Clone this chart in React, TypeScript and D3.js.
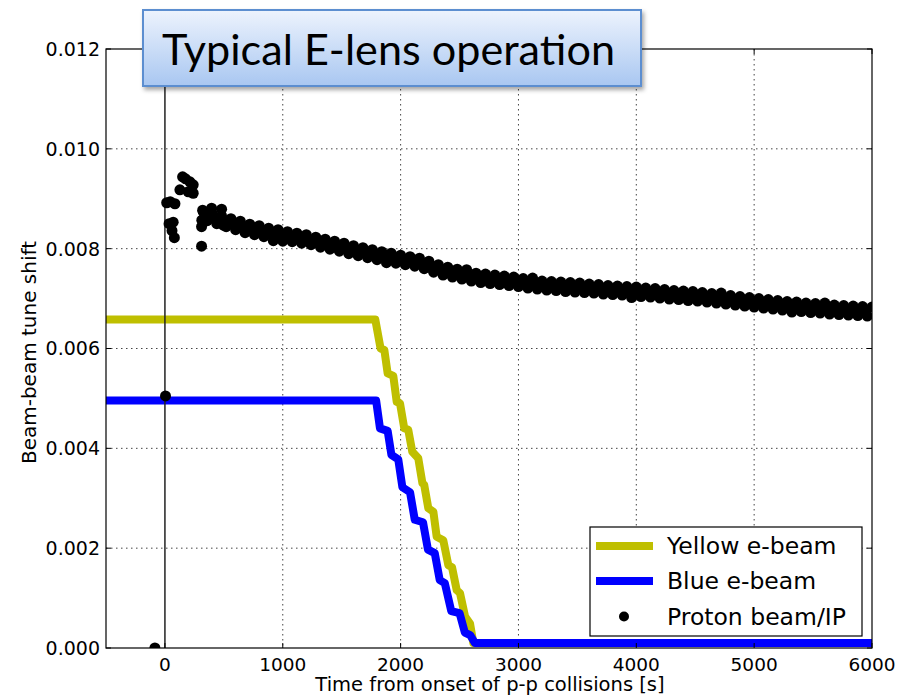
import React from "react";
import * as d3 from "d3";

// ---------- data ----------
const xTicks = [0, 1000, 2000, 3000, 4000, 5000, 6000];
const yTicks = [0, 0.002, 0.004, 0.006, 0.008, 0.01, 0.012];
const xDomain: [number, number] = [-500, 6000];
const yDomain: [number, number] = [0, 0.012];

const titleText = "Typical E-lens operation";
const xLabel = "Time from onset of p-p collisions [s]";
const yLabel = "Beam-beam tune shift";
const legendLabels = ["Yellow e-beam", "Blue e-beam", "Proton beam/IP"];

const yellowBeam: [number, number][] = [
  [-500, 0.00658], [1785, 0.00658], [1830, 0.006], [1862, 0.00597], [1890, 0.0055],
  [1938, 0.00545], [1967, 0.00493], [1995, 0.0049], [2031, 0.0044], [2065, 0.00437],
  [2099, 0.00393], [2150, 0.0038], [2185, 0.0033], [2200, 0.00327], [2235, 0.0028],
  [2278, 0.00273], [2306, 0.00223], [2362, 0.00216], [2405, 0.00166], [2436, 0.00162],
  [2476, 0.00116], [2504, 0.0011], [2547, 0.00063], [2589, 0.00049], [2617, 0.0001],
  [6000, 0.0001],
];

const blueBeam: [number, number][] = [
  [-500, 0.00496], [1792, 0.00496], [1825, 0.0044], [1890, 0.00435], [1922, 0.00387],
  [1980, 0.00378], [2015, 0.00322], [2080, 0.00312], [2120, 0.00257], [2190, 0.00252],
  [2232, 0.00197], [2290, 0.0019], [2332, 0.00136], [2375, 0.0013], [2430, 0.00074],
  [2500, 0.0007], [2545, 0.00031], [2590, 0.00026], [2630, 0.0001], [6000, 0.0001],
];

const protonEarly: [number, number][] = [
  [-85, 0.0], [5, 0.00505],
  [15, 0.00892], [45, 0.00894], [85, 0.0089],
  [35, 0.0085], [70, 0.00853], [60, 0.00836], [80, 0.00822],
  [127, 0.00918], [150, 0.00944], [175, 0.0094], [212, 0.00934], [240, 0.00928],
  [240, 0.00911], [198, 0.00914],
  [311, 0.00805], [311, 0.00844], [313, 0.00857], [325, 0.00874], [396, 0.00881],
  [481, 0.00879], [495, 0.00847],
];

const protonBand: [number, number][] = [
  [320, 0.00877], [360, 0.00856], [400, 0.00871], [440, 0.0085], [480, 0.00866], [520, 0.00844],
  [560, 0.0086], [600, 0.00838], [640, 0.00855], [680, 0.00832], [720, 0.00849], [760, 0.00828],
  [800, 0.00846], [840, 0.00824], [880, 0.00841], [920, 0.00816], [960, 0.00838], [1000, 0.00815],
  [1040, 0.00834], [1080, 0.00814], [1120, 0.00831], [1160, 0.00811], [1200, 0.00828], [1240, 0.00808],
  [1280, 0.00823], [1320, 0.00803], [1360, 0.00819], [1400, 0.00799], [1440, 0.00815], [1480, 0.00795],
  [1520, 0.00811], [1560, 0.0079], [1600, 0.00806], [1640, 0.00786], [1680, 0.00802], [1720, 0.00782],
  [1760, 0.00798], [1800, 0.00778], [1840, 0.00794], [1880, 0.00772], [1920, 0.00791], [1960, 0.00771],
  [2000, 0.00787], [2040, 0.00768], [2080, 0.00784], [2120, 0.00765], [2160, 0.00781], [2200, 0.0076],
  [2240, 0.00775], [2280, 0.00753], [2320, 0.00768], [2360, 0.00747], [2400, 0.00763], [2440, 0.00743],
  [2480, 0.00759], [2520, 0.00739], [2560, 0.00758], [2600, 0.00735], [2640, 0.00751], [2680, 0.00732],
  [2720, 0.00749], [2760, 0.0073], [2800, 0.00747], [2840, 0.00728], [2880, 0.00745], [2920, 0.00726],
  [2960, 0.00743], [3000, 0.00724], [3040, 0.0074], [3080, 0.00721], [3120, 0.00741], [3160, 0.00719],
  [3200, 0.00735], [3240, 0.00717], [3280, 0.00734], [3320, 0.00716], [3360, 0.00733], [3400, 0.00714],
  [3440, 0.00732], [3480, 0.00713], [3520, 0.00731], [3560, 0.00712], [3600, 0.00729], [3640, 0.00711],
  [3680, 0.00728], [3720, 0.00709], [3760, 0.00726], [3800, 0.00708], [3840, 0.00725], [3880, 0.00707],
  [3920, 0.00724], [3960, 0.00702], [4000, 0.00723], [4040, 0.00704], [4080, 0.00721], [4120, 0.00703],
  [4160, 0.0072], [4200, 0.00701], [4240, 0.00718], [4280, 0.00699], [4320, 0.00716], [4360, 0.00698],
  [4400, 0.00715], [4440, 0.00696], [4480, 0.00714], [4520, 0.00695], [4560, 0.00712], [4600, 0.00693],
  [4640, 0.0071], [4680, 0.00691], [4720, 0.00711], [4760, 0.00689], [4800, 0.00706], [4840, 0.00687],
  [4880, 0.00704], [4920, 0.00685], [4960, 0.00702], [5000, 0.00683], [5040, 0.007], [5080, 0.00681],
  [5120, 0.00698], [5160, 0.00679], [5200, 0.00696], [5240, 0.00677], [5280, 0.00694], [5320, 0.00673],
  [5360, 0.00693], [5400, 0.00674], [5440, 0.00691], [5480, 0.00672], [5520, 0.0069], [5560, 0.00671],
  [5600, 0.00691], [5640, 0.00669], [5680, 0.00687], [5720, 0.00668], [5760, 0.00686], [5800, 0.00667],
  [5840, 0.00685], [5880, 0.00666], [5920, 0.00684], [5960, 0.00665], [6000, 0.00683],
];

// a middle row of the band, between the upper and lower rows above
const protonMid: [number, number][] = [
  [340, 0.00866], [420, 0.00861], [500, 0.00855], [580, 0.0085], [660, 0.00843], [740, 0.00839],
  [820, 0.00835], [900, 0.00828], [980, 0.00828], [1060, 0.00824], [1140, 0.00821], [1220, 0.00817],
  [1300, 0.00813], [1380, 0.00809], [1460, 0.00805], [1540, 0.008], [1620, 0.00796], [1700, 0.00792],
  [1780, 0.00788], [1860, 0.00784], [1940, 0.00781], [2020, 0.00778], [2100, 0.00775], [2180, 0.0077],
  [2260, 0.00764], [2340, 0.00757], [2420, 0.00753], [2500, 0.00749], [2580, 0.00745], [2660, 0.00741],
  [2740, 0.00739], [2820, 0.00737], [2900, 0.00735], [2980, 0.00733], [3060, 0.00731], [3140, 0.00728],
  [3220, 0.00726], [3300, 0.00725], [3380, 0.00723], [3460, 0.00722], [3540, 0.00721], [3620, 0.0072],
  [3700, 0.00718], [3780, 0.00717], [3860, 0.00716], [3940, 0.00714], [4020, 0.00713], [4100, 0.00712],
  [4180, 0.0071], [4260, 0.00709], [4340, 0.00707], [4420, 0.00705], [4500, 0.00704], [4580, 0.00702],
  [4660, 0.007], [4740, 0.00699], [4820, 0.00697], [4900, 0.00695], [4980, 0.00693], [5060, 0.00691],
  [5140, 0.00688], [5220, 0.00686], [5300, 0.00685], [5380, 0.00683], [5460, 0.00682], [5540, 0.0068],
  [5620, 0.00679], [5700, 0.00678], [5780, 0.00676], [5860, 0.00676], [5940, 0.00675],
];

// ---------- component ----------
export default function App() {
  const W = 907, H = 696;
  const L = 106, R = 872, T = 49, B = 648;
  const x = d3.scaleLinear().domain(xDomain).range([L, R]);
  const y = d3.scaleLinear().domain(yDomain).range([B, T]);
  const line = d3.line<[number, number]>().x((d) => x(d[0])).y((d) => y(d[1]));
  const font = "'DejaVu Sans', sans-serif";
  const proton = protonEarly.concat(protonBand, protonMid);

  // legend geometry
  const lgX = 590, lgY = 527, lgW = 272, lgH = 109;
  const rowY = [546, 581, 616.5];

  return (
    <svg width={W} height={H} style={{ position: "absolute", left: 0, top: 0, background: "#fff" }}>
      <defs>
        <clipPath id="plotClip">
          <rect x={L} y={T} width={R - L} height={B - T} />
        </clipPath>
        <linearGradient id="titleGrad" x1="0" y1="0" x2="0" y2="1">
          <stop offset="0%" stopColor="#edf3fd" />
          <stop offset="100%" stopColor="#a9c7f1" />
        </linearGradient>
        <filter id="shadow" x="-10%" y="-20%" width="130%" height="150%">
          <feDropShadow dx="2" dy="3" stdDeviation="2" floodColor="#000" floodOpacity="0.35" />
        </filter>
      </defs>
      <rect x={0} y={0} width={W} height={H} fill="#fff" />

      {/* grid */}
      <g stroke="#444" strokeWidth={1} strokeDasharray="1.5,3.5">
        {xTicks.filter((t) => t > 0 && t < 6000).map((t) => (
          <line key={"gx" + t} x1={x(t)} x2={x(t)} y1={T} y2={B} />
        ))}
        {yTicks.filter((t) => t > 0 && t < 0.012).map((t) => (
          <line key={"gy" + t} x1={L} x2={R} y1={y(t)} y2={y(t)} />
        ))}
      </g>

      {/* beams */}
      <g clipPath="url(#plotClip)">
        <path d={line(yellowBeam) || ""} fill="none" stroke="#bfbf00" strokeWidth={8} strokeLinejoin="round" />
        <path d={line(blueBeam) || ""} fill="none" stroke="#0000ff" strokeWidth={8} strokeLinejoin="round" />
        <line x1={x(0)} x2={x(0)} y1={T} y2={B} stroke="#222" strokeWidth={1.5} />
        {proton.map((d, i) => (
          <circle key={"p" + i} cx={x(d[0])} cy={y(d[1])} r={5.5} fill="#000" />
        ))}
      </g>

      {/* frame */}
      <rect x={L} y={T} width={R - L} height={B - T} fill="none" stroke="#000" strokeWidth={1.2} />

      {/* ticks */}
      <g stroke="#000" strokeWidth={1}>
        {xTicks.map((t) => (
          <g key={"tx" + t}>
            <line x1={x(t)} x2={x(t)} y1={B} y2={B - 5} />
            <line x1={x(t)} x2={x(t)} y1={T} y2={T + 5} />
          </g>
        ))}
        {yTicks.map((t) => (
          <g key={"ty" + t}>
            <line x1={L} x2={L + 5} y1={y(t)} y2={y(t)} />
            <line x1={R} x2={R - 5} y1={y(t)} y2={y(t)} />
          </g>
        ))}
      </g>

      {/* tick labels */}
      <g fontFamily={font} fill="#000">
        {xTicks.map((t) => (
          <text key={"lx" + t} x={x(t)} y={671} fontSize={18.5} textAnchor="middle">{String(t)}</text>
        ))}
        {yTicks.map((t) => (
          <text key={"ly" + t} x={100} y={y(t)} dy="0.36em" fontSize={19} textAnchor="end">{t.toFixed(3)}</text>
        ))}
      </g>

      {/* axis labels */}
      <text x={(L + R) / 2 + 1} y={691} textAnchor="middle" fontFamily={font} fontSize={19.5}>{xLabel}</text>
      <text transform={`translate(36,${(T + B) / 2 + 4}) rotate(-90)`} textAnchor="middle" fontFamily={font} fontSize={20}>{yLabel}</text>

      {/* legend */}
      <rect x={lgX} y={lgY} width={lgW} height={lgH} fill="#fff" stroke="#000" strokeWidth={1.2} />
      <line x1={596} x2={653} y1={rowY[0]} y2={rowY[0]} stroke="#bfbf00" strokeWidth={8} />
      <line x1={596} x2={653} y1={rowY[1]} y2={rowY[1]} stroke="#0000ff" strokeWidth={8} />
      <circle cx={624} cy={rowY[2]} r={5} fill="#000" />
      <g fontFamily={font} fontSize={23.5} fill="#000">
        {legendLabels.map((s, i) => (
          <text key={s} x={667} y={rowY[i]} dy="0.36em">{s}</text>
        ))}
      </g>

      {/* title box */}
      <rect x={143} y={10} width={498} height={76} fill="url(#titleGrad)" stroke="#5b8ed0" strokeWidth={2} filter="url(#shadow)" />
      <text x={162} y={65} fontFamily="Lato, 'Open Sans', sans-serif" fontSize={43} fill="#000" textLength={453} lengthAdjust="spacingAndGlyphs">{titleText}</text>
    </svg>
  );
}
